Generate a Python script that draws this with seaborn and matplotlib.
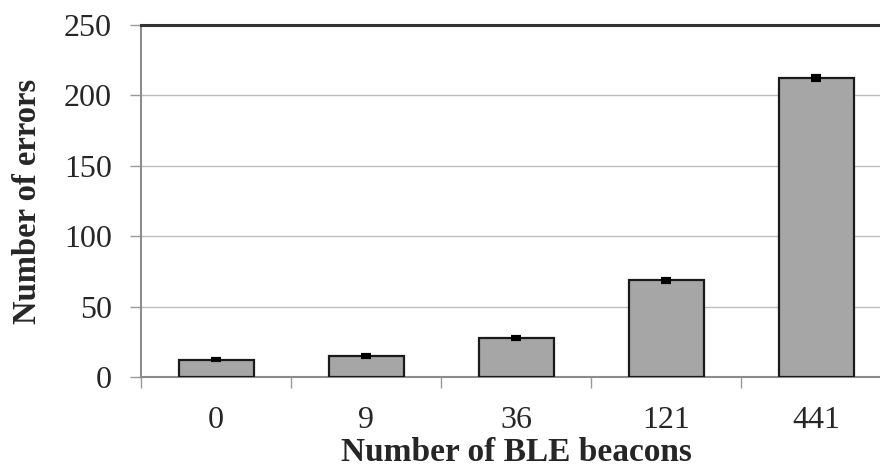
import matplotlib
matplotlib.use("Agg")
import matplotlib.pyplot as plt
import seaborn as sns
import pandas as pd
import numpy as np

# values
beacons = ["0", "9", "36", "121", "441"]
errors_mean = [12.4, 14.9, 27.8, 68.6, 212.4]
errors_sd = [0.6, 0.6, 0.6, 0.8, 1.5]

df = pd.DataFrame({"beacons": beacons, "errors": errors_mean})

sns.set_theme(style="white")
plt.rcParams["font.family"] = ["Liberation Serif", "DejaVu Serif"]

fig = plt.figure(figsize=(8.8, 4.73), dpi=100)
ax = fig.add_axes([141 / 880, 1 - 377 / 473, 750 / 880, 352 / 473])

sns.barplot(data=df, x="beacons", y="errors", color="#a6a6a6", width=0.5,
            edgecolor="#1a1a1a", linewidth=1.6, saturation=1, errorbar=None, ax=ax)
for p in ax.patches:
    p.set_facecolor("#a6a6a6")
    p.set_zorder(3)

ax.errorbar(x=np.arange(len(beacons)), y=errors_mean, yerr=errors_sd, fmt="none",
            ecolor="black", elinewidth=2, capsize=3.5, capthick=3, zorder=4)

ax.set_ylim(0, 250)
ax.set_yticks([0, 50, 100, 150, 200, 250])
ax.set_xlim(-0.5, len(beacons) - 0.5)
ax.yaxis.grid(True, color="#bdbdbd", linewidth=1.0, zorder=0)
ax.set_axisbelow(True)

# category boundary ticks
ax.set_xticks(np.arange(-0.5, len(beacons)), minor=True)
ax.tick_params(axis="x", which="major", length=0, pad=21, labelsize=23)
ax.tick_params(axis="x", which="minor", length=8, width=1, color="#999999", direction="out",
               bottom=True)
ax.tick_params(axis="y", which="major", length=8, width=1, color="#999999", direction="out",
               left=True, pad=13, labelsize=23)

for side in ["left", "bottom"]:
    ax.spines[side].set_color("#8c8c8c")
    ax.spines[side].set_linewidth(1.5)
ax.spines["top"].set_color("#333333")
ax.spines["top"].set_linewidth(2.2)
ax.spines["right"].set_visible(False)

ax.set_xlabel("Number of BLE beacons", fontsize=24, fontweight="bold", labelpad=1)
ax.set_ylabel("Number of errors", fontsize=23.5, fontweight="bold", labelpad=15)

fig.savefig("out.png", dpi=100)
plt.close(fig)
